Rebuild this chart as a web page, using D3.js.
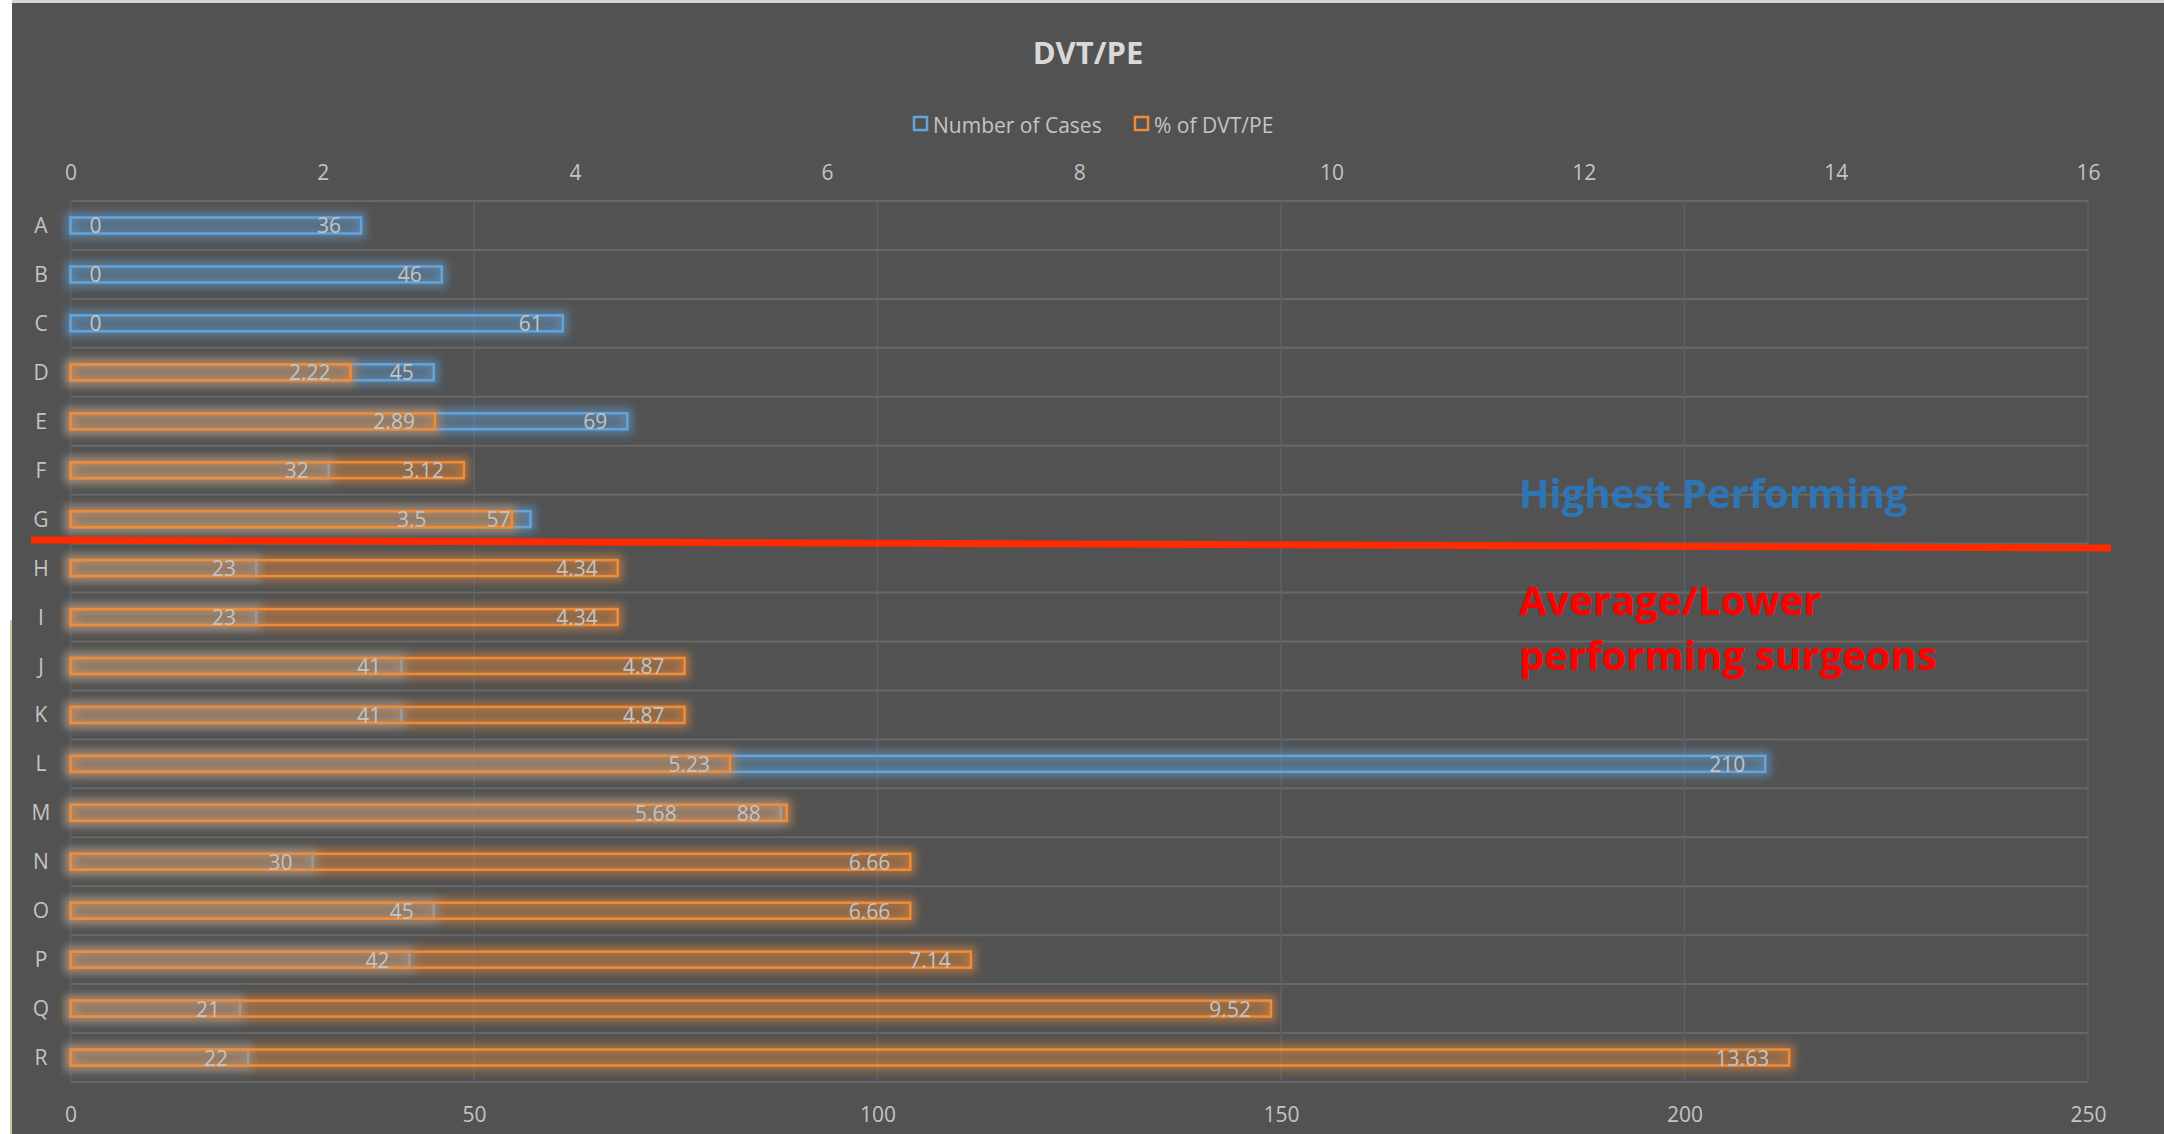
<!DOCTYPE html>
<html>
<head>
<meta charset="utf-8">
<script src="https://cdn.jsdelivr.net/npm/d3@7"></script>
<style>
  body { margin: 0; background: #ffffff; }
  svg { display: block; }
  text { font-family: "Open Sans", sans-serif; }
</style>
</head>
<body>
<svg id="chart" width="2164" height="1134"></svg>
<script>
// Surgeons, in display order
const categories = ["A","B","C","D","E","F","G","H","I","J","K","L","M","N","O","P","Q","R"];
// Number of cases per surgeon (bottom axis)
const cases = [36, 46, 61, 45, 69, 32, 57, 23, 23, 41, 41, 210, 88, 30, 45, 42, 21, 22];
// % of DVT/PE per surgeon (top axis)
const dvtPct = [0, 0, 0, 2.22, 2.89, 3.12, 3.5, 4.34, 4.34, 4.87, 4.87, 5.23, 5.68, 6.66, 6.66, 7.14, 9.52, 13.63];
const caseTicks = [0, 50, 100, 150, 200, 250];
const pctTicks = [0, 2, 4, 6, 8, 10, 12, 14, 16];
const seriesNames = ["Number of Cases", "% of DVT/PE"];
const chartTitle = "DVT/PE";
const topGroupLabel = "Highest Performing";
const lowerGroupLabel = ["Average/Lower", "performing surgeons"];

const W = 2164, H = 1134;
const plot = { left: 70.5, right: 2088, top: 201, bottom: 1082 };
const BLUE = "#63a4dc", ORANGE = "#f08c38";
const LABEL = "#c4c4c4";

const svg = d3.select("#chart");

// Frame
svg.append("rect").attr("width", W).attr("height", H).attr("fill", "#ffffff");
svg.append("rect").attr("x", 12).attr("y", 0).attr("width", W - 12).attr("height", 3).attr("fill", "#d4d4d4");
svg.append("rect").attr("x", 12).attr("y", 3).attr("width", W - 12).attr("height", H - 3).attr("fill", "#525252");
svg.append("rect").attr("x", 10).attr("y", 620).attr("width", 2).attr("height", H - 620).attr("fill", "#a9c98a").attr("opacity", 0.8);

// Glow filter for the bar outlines
const defs = svg.append("defs");
const f = defs.append("filter").attr("id", "glow")
  .attr("x", "-5%").attr("y", "-150%").attr("width", "110%").attr("height", "400%");
f.append("feGaussianBlur").attr("stdDeviation", 4.5);

const xCases = d3.scaleLinear().domain([0, 250]).range([plot.left, plot.right]);
const xPct = d3.scaleLinear().domain([0, 16]).range([plot.left, plot.right]);
const y = d3.scaleBand().domain(categories).range([plot.top, plot.bottom]);
const barH = 16;
const barY = c => y(c) + (y.bandwidth() - barH) / 2;

// Gridlines
const grid = svg.append("g");
const hLines = categories.map(c => y(c)).concat([plot.bottom]);
grid.selectAll("line.h").data(hLines).join("line")
  .attr("x1", plot.left).attr("x2", plot.right)
  .attr("y1", d => d).attr("y2", d => d)
  .attr("stroke", "#686868").attr("stroke-width", 2);
grid.selectAll("line.v").data(caseTicks).join("line")
  .attr("x1", d => xCases(d)).attr("x2", d => xCases(d))
  .attr("y1", plot.top).attr("y2", plot.bottom)
  .attr("stroke", "#58626c").attr("stroke-width", 1.5);

// Axes
const topAxis = svg.append("g").attr("transform", `translate(0,172)`)
  .call(d3.axisTop(xPct).tickValues(pctTicks).tickSize(0).tickFormat(d3.format("d")));
const bottomAxis = svg.append("g").attr("transform", `translate(0,1114)`)
  .call(d3.axisBottom(xCases).tickValues(caseTicks).tickSize(0).tickFormat(d3.format("d")));
const leftAxis = svg.append("g").attr("transform", `translate(41,0)`)
  .call(d3.axisLeft(y).tickSize(0).tickPadding(0));
[topAxis, bottomAxis, leftAxis].forEach(g => {
  g.select(".domain").remove();
  g.selectAll("text").attr("y", null).attr("x", null).attr("dy", "0.36em")
    .attr("text-anchor", "middle")
    .attr("fill", LABEL).style("font-size", "21px")
    .style("font-family", "'Open Sans', sans-serif");
  g.attr("font-family", null).attr("font-size", null);
});

// Bars: cases first, DVT/PE % on top of them
function drawBars(values, scale, color, fillOpacity) {
  const g = svg.append("g");
  const data = categories.map((c, i) => ({ c, v: values[i] })).filter(d => d.v > 0);
  g.selectAll("rect.glow").data(data).join("rect")
    .attr("x", plot.left).attr("y", d => barY(d.c))
    .attr("width", d => scale(d.v) - plot.left).attr("height", barH)
    .attr("fill", "none").attr("stroke", color).attr("stroke-width", 10)
    .attr("stroke-opacity", 0.55).attr("filter", "url(#glow)");
  g.selectAll("rect.bar").data(data).join("rect")
    .attr("x", plot.left).attr("y", d => barY(d.c))
    .attr("width", d => scale(d.v) - plot.left).attr("height", barH)
    .attr("fill", color).attr("fill-opacity", fillOpacity)
    .attr("stroke", color).attr("stroke-width", 2.5);
}
drawBars(cases, xCases, BLUE, 0.14);
drawBars(dvtPct, xPct, ORANGE, 0.16);

// Data labels (inside end)
const labels = svg.append("g").style("font-size", "21px").attr("fill", LABEL);
const pad = 20;
categories.forEach((c, i) => {
  const cy = barY(c) + barH / 2;
  const caseLabel = labels.append("text")
    .attr("x", xCases(cases[i]) - pad).attr("y", cy).attr("dy", "0.38em")
    .attr("text-anchor", "end").text(cases[i]);
  const pctLabel = labels.append("text").attr("y", cy).attr("dy", "0.38em").text(dvtPct[i]);
  if (dvtPct[i] === 0) {
    pctLabel.attr("x", plot.left + 19).attr("text-anchor", "start");
  } else {
    pctLabel.attr("x", xPct(dvtPct[i]) - pad).attr("text-anchor", "end");
    const a = caseLabel.node().getBBox(), b = pctLabel.node().getBBox();
    if (b.x < a.x + a.width && b.x + b.width > a.x - 4) {
      pctLabel.attr("x", a.x - 60);
    }
  }
});

// Title
svg.append("text").attr("x", 1088).attr("y", 64).attr("text-anchor", "middle")
  .attr("fill", "#d9d9d9").style("font-size", "31px").style("font-weight", "bold")
  .text(chartTitle);

// Legend
const legend = svg.append("g");
const legendItems = [
  { name: seriesNames[0], color: BLUE, x: 914 },
  { name: seriesNames[1], color: ORANGE, x: 1135 }
];
legendItems.forEach(d => {
  legend.append("rect").attr("x", d.x).attr("y", 117).attr("width", 13).attr("height", 13)
    .attr("fill", "none").attr("stroke", d.color).attr("stroke-width", 2.5);
  legend.append("text").attr("x", d.x + 19).attr("y", 125).attr("dy", "0.36em")
    .attr("fill", LABEL).style("font-size", "21px").text(d.name);
});

// Divider between groups
svg.append("line").attr("x1", 31).attr("y1", 540).attr("x2", 2111).attr("y2", 548)
  .attr("stroke", "#ff2a00").attr("stroke-width", 7);

// Group annotations
svg.append("text").attr("x", 1519).attr("y", 508)
  .attr("fill", "#2e75b6").style("font-size", "40px").style("font-weight", "bold")
  .text(topGroupLabel);
const low = svg.append("text").attr("x", 1519).attr("y", 615)
  .attr("fill", "#ff0000").style("font-size", "40px").style("font-weight", "bold");
lowerGroupLabel.forEach((t, i) => {
  low.append("tspan").attr("x", 1519).attr("y", 615 + i * 55).text(t);
});
</script>
</body>
</html>
